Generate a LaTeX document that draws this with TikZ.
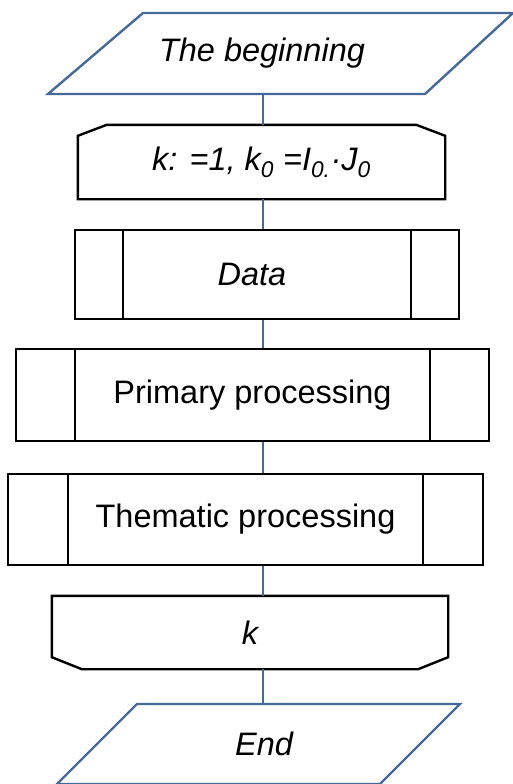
\documentclass[tikz,border=0pt]{standalone}
\usepackage{fontspec}
\setmainfont{Liberation Sans}
\usepackage{xcolor}
\usepackage{tikz}
\usetikzlibrary{positioning}
\definecolor{biru}{RGB}{70,106,152}
\tikzset{
  teks/.style={font=\fontsize{32.5}{39}\selectfont, inner sep=0pt, align=center},
  kotak/.style={teks, rectangle, draw=black, line width=2.4pt},
  proses/.style={kotak, path picture={
    \draw[line width=2.4pt] ([xshift=#1]path picture bounding box.north west) -- ([xshift=#1]path picture bounding box.south west);
    \draw[line width=2.4pt] ([xshift=-#1]path picture bounding box.north east) -- ([xshift=-#1]path picture bounding box.south east);}},
  tepi/.style={draw=black, line width=2.4pt, line join=miter},
  jajar/.style={draw=biru, line width=2.4pt, line join=miter},
  garis/.style={draw=biru, line width=2.2pt}
}

\begin{document}
\begin{tikzpicture}[x=1pt, y=-1pt]
  \useasboundingbox (0,0) rectangle (513,784);
  \clip (0,0) rectangle (513,784);
  \coordinate (poros) at (263,0);
  % blok-blok
  \node[teks, minimum height=81pt] (mulai) at (262,53.5) {\itshape The beginning};
  \node[teks, minimum width=367pt, minimum height=74pt] (awal) at (261.5,162)
    {\itshape k: =1, k\textsubscript{0} =I\textsubscript{0.}·J\textsubscript{0}};
  \node[proses=48pt, minimum width=384pt, minimum height=89pt] (data) at (267,274.5) {\hspace*{-30pt}\itshape Data};
  \node[proses=59pt, minimum width=473pt, minimum height=92pt] (primer) at (252.5,395) {Primary processing};
  \node[proses=60pt, minimum width=475pt, minimum height=91pt] (tematik) at (245.5,519.5) {Thematic processing};
  \node[teks, minimum width=396pt, minimum height=73pt] (hasil) at (250,632.5) {\itshape k};
  \node[teks, minimum height=80pt] (akhir) at (264,744) {\itshape End};
  % bentuk
  \draw[jajar] (143,13) -- (513,13) -- (425,94) -- (48,94) -- cycle;
  \draw[tepi] ([yshift=-11pt]awal.north west) -- ([xshift=29pt]awal.north west)
    -- ([xshift=-29pt]awal.north east) -- ([yshift=-11pt]awal.north east)
    -- (awal.south east) -- (awal.south west) -- cycle;
  \draw[tepi] (hasil.north west) -- (hasil.north east) -- ([yshift=12pt]hasil.south east)
    -- ([xshift=-30pt]hasil.south east) -- ([xshift=30pt]hasil.south west)
    -- ([yshift=12pt]hasil.south west) -- cycle;
  \draw[jajar] (137,704) -- (460,704) -- (380,784) -- (57,784) -- cycle;
  % garis
  \draw[garis] (mulai.south -| poros) -- (awal.north -| poros);
  \draw[garis] (awal.south -| poros) -- (data.north -| poros);
  \draw[garis] (data.south -| poros) -- (primer.north -| poros);
  \draw[garis] (primer.south -| poros) -- (tematik.north -| poros);
  \draw[garis] (tematik.south -| poros) -- (hasil.north -| poros);
  \draw[garis] (hasil.south -| poros) -- (akhir.north -| poros);
\end{tikzpicture}
\end{document}
